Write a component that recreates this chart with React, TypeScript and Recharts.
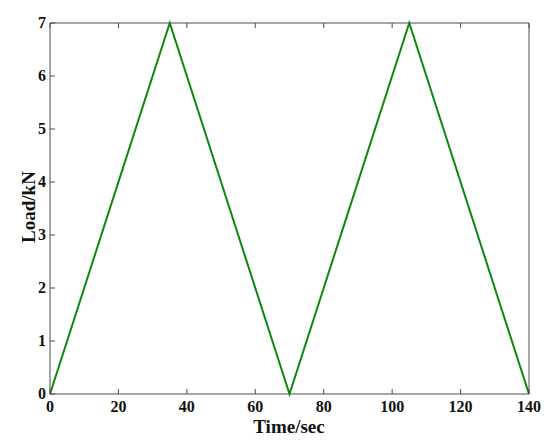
import { Line, LineChart, XAxis, YAxis } from 'recharts';

// Time (s) and load (kN) at the turning points of the triangular load cycle
const timeSec = [0, 35, 70, 105, 140];
const loadKN = [0, 7, 0, 7, 0];

const xTicks = [0, 20, 40, 60, 80, 100, 120, 140];
const yTicks = [0, 1, 2, 3, 4, 5, 6, 7];

const data = timeSec.map((t, i) => ({ t, load: loadKN[i] }));

const AXIS = '#4d4d4d';
const FONT = '"Liberation Serif", "Times New Roman", serif';
const TICK_LEN = 5;
const tickStyle = { fontFamily: FONT, fontWeight: 'bold' as const, fontSize: '16px' };
const titleStyle = { fontFamily: FONT, fontWeight: 'bold' as const, fontSize: '19px' };

// MATLAB-style ticks: small marks pointing into the plot box
const BottomTick = (props: any) => {
  const { x, y, payload } = props;
  return (
    <g>
      <line x1={x} x2={x} y1={y} y2={y - TICK_LEN} stroke={AXIS} />
      <text x={x} y={y + 18} textAnchor="middle" style={tickStyle} fill="#111">
        {payload.value}
      </text>
    </g>
  );
};

const LeftTick = (props: any) => {
  const { x, y, payload } = props;
  return (
    <g>
      <line x1={x} x2={x + TICK_LEN} y1={y} y2={y} stroke={AXIS} />
      <text x={x - 4} y={y + 5} textAnchor="end" style={tickStyle} fill="#111">
        {payload.value}
      </text>
    </g>
  );
};

const TopTick = (props: any) => {
  const { x, y } = props;
  return <line x1={x} x2={x} y1={y} y2={y + TICK_LEN} stroke={AXIS} />;
};

const RightTick = (props: any) => {
  const { x, y } = props;
  return <line x1={x} x2={x - TICK_LEN} y1={y} y2={y} stroke={AXIS} />;
};

const App = () => {
  return (
    <div style={{ position: 'absolute', left: 0, top: 0, width: 550, height: 448, background: '#fff' }}>
      <LineChart width={550} height={448} data={data} margin={{ top: 22, right: 20, bottom: 24, left: 10 }}>
        <XAxis
          xAxisId="b"
          dataKey="t"
          type="number"
          domain={[0, 140]}
          ticks={xTicks}
          height={30}
          tickSize={0}
          tickMargin={0}
          tickLine={false}
          axisLine={{ stroke: AXIS }}
          tick={<BottomTick />}
          interval={0}
        />
        <XAxis
          xAxisId="t"
          orientation="top"
          dataKey="t"
          type="number"
          domain={[0, 140]}
          ticks={xTicks}
          height={1}
          tickSize={0}
          tickMargin={0}
          tickLine={false}
          axisLine={{ stroke: AXIS }}
          tick={<TopTick />}
          interval={0}
        />
        <YAxis
          yAxisId="l"
          type="number"
          domain={[0, 7]}
          ticks={yTicks}
          width={40}
          tickSize={0}
          tickMargin={0}
          tickLine={false}
          axisLine={{ stroke: AXIS }}
          tick={<LeftTick />}
          interval={0}
        />
        <YAxis
          yAxisId="r"
          orientation="right"
          type="number"
          domain={[0, 7]}
          ticks={yTicks}
          width={1}
          tickSize={0}
          tickMargin={0}
          tickLine={false}
          axisLine={{ stroke: AXIS }}
          tick={<RightTick />}
          interval={0}
        />
        <Line
          xAxisId="b"
          yAxisId="l"
          type="linear"
          dataKey="load"
          stroke="#0a8a0a"
          strokeWidth={2}
          dot={false}
          isAnimationActive={false}
        />
        <text x={289} y={433} textAnchor="middle" style={titleStyle} fill="#111">
          Time/sec
        </text>
        <text x={0} y={0} transform="translate(35, 207) rotate(-90)" textAnchor="middle" style={titleStyle} fill="#111">
          Load/kN
        </text>
      </LineChart>
    </div>
  );
};

export default App;
